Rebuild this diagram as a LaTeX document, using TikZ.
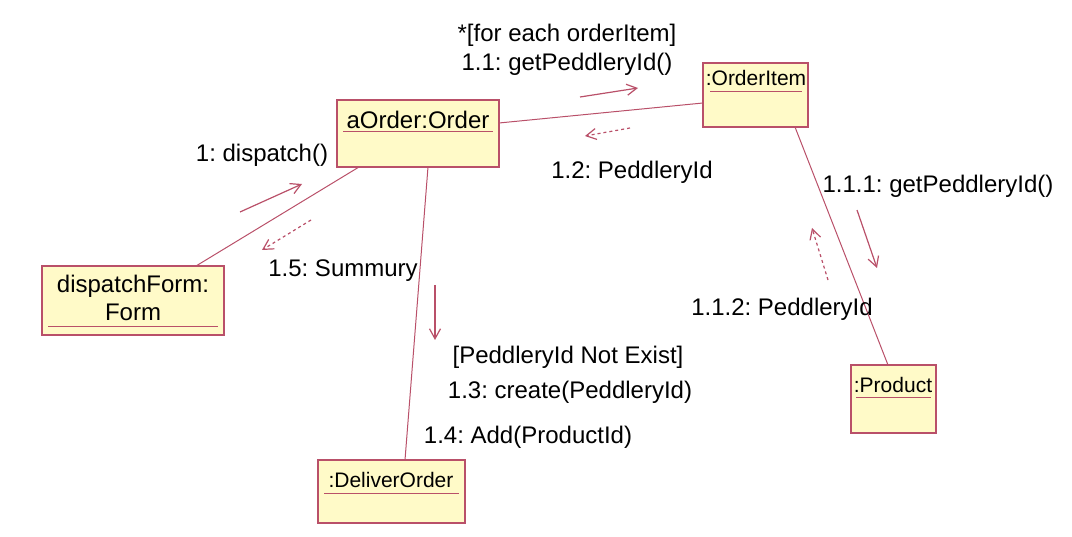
\documentclass[tikz,border=0pt]{standalone}
\usepackage{fontspec}
\setmainfont{Liberation Sans}
\usetikzlibrary{arrows.meta}
\begin{document}
\frenchspacing
\definecolor{ln}{RGB}{185,80,105}
\definecolor{fl}{RGB}{255,250,200}
\begin{tikzpicture}[x=1pt,y=-1pt,
  box/.style={draw=ln,fill=fl,line width=1.2pt,rectangle},
  lnk/.style={draw=ln,line width=1pt},
  msg/.style={draw=ln,line width=1.2pt,-{Straight Barb[length=10pt,width=11pt]}},
  ret/.style={msg,dashed},
  lab/.style={font=\fontsize{24}{28}\selectfont,inner sep=0pt,align=center},
  blab/.style={font=\fontsize{21}{25}\selectfont,inner sep=0pt,align=center},
  ul/.style={draw=ln,line width=1pt}]
\useasboundingbox (0,0) rectangle (1072,537);
% boxes
\path[box] (337,100) rectangle (499,167); \node[lab,anchor=center] (o) at (418,120) {aOrder:Order};
\draw[ul] (343,132) -- (493,132);
\path[box] (703,63) rectangle (808,127); \node[blab] (oi) at (756,78) {:OrderItem};
\draw[ul] (710,92) -- (802,92);
\path[box] (42,266) rectangle (224,335); \node[lab] (df) at (133,298) {dispatchForm:\\Form};
\draw[ul] (48,327) -- (218,327);
\path[box] (851,365) rectangle (936,433); \node[blab] (pr) at (893,385) {:Product};
\draw[ul] (856,398) -- (931,398);
\path[box] (318,460) rectangle (465,523); \node[blab] (do) at (391,480) {:DeliverOrder};
\draw[ul] (324,493) -- (459,493);
% links
\coordinate (a1) at (359,167); \coordinate (b1) at (196,266);
\draw[lnk] (a1) -- (b1);
\coordinate (a2) at (428,167); \coordinate (b2) at (405,460);
\draw[lnk] (a2) -- (b2);
\coordinate (a3) at (499,123); \coordinate (b3) at (703,103);
\draw[lnk] (a3) -- (b3);
\coordinate (a4) at (795,127); \coordinate (b4) at (888,365);
\draw[lnk] (a4) -- (b4);
% messages
\coordinate (m1s) at (240,212); \coordinate (m1e) at (302,184); \draw[msg] (m1s) -- (m1e);
\coordinate (m2s) at (311,220); \coordinate (m2e) at (262,250); \draw[ret] (m2s) -- (m2e);
\coordinate (m3s) at (435,285); \coordinate (m3e) at (435,340); \draw[msg] (m3s) -- (m3e);
\coordinate (m4s) at (580,97); \coordinate (m4e) at (638,88); \draw[msg] (m4s) -- (m4e);
\coordinate (m5s) at (630,128); \coordinate (m5e) at (585,136); \draw[ret] (m5s) -- (m5e);
\coordinate (m6s) at (857,210); \coordinate (m6e) at (877,268); \draw[msg] (m6s) -- (m6e);
\coordinate (m7s) at (828,280); \coordinate (m7e) at (812,228); \draw[ret] (m7s) -- (m7e);
% labels
\node[lab] (t1) at (567,35) {*[for each orderItem]};
\node[lab] (t2) at (567,64) {1.1: getPeddleryId()};
\node[lab] (t3) at (632,172) {1.2: PeddleryId};
\node[lab] (t4) at (262,155) {1: dispatch()};
\node[lab] (t5) at (343,271) {1.5: Summury};
\node[lab] (t6) at (938,186) {1.1.1: getPeddleryId()};
\node[lab] (t7) at (782,309) {1.1.2: PeddleryId};
\node[lab] (t8) at (568,357) {[PeddleryId Not Exist]};
\node[lab] (t9) at (570,392) {1.3: create(PeddleryId)};
\node[lab] (t10) at (528,437) {1.4: Add(ProductId)};
\end{tikzpicture}
\end{document}
